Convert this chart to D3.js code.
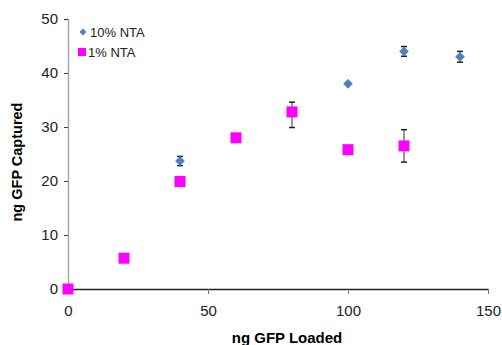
<!DOCTYPE html>
<html>
<head>
<meta charset="utf-8">
<script src="https://cdn.jsdelivr.net/npm/d3@7"></script>
<style>
  body { margin: 0; background: #fff; }
  text { font-family: "Liberation Sans", Arial, sans-serif; }
</style>
</head>
<body>
<div id="chart"></div>
<script>
let width  = 502,
    height = 345;

let margin = {top: 19, right: 14, bottom: 56, left: 68};

// 10% NTA (blue diamonds)
let ntaHighX   = [40, 100, 120, 140];
let ntaHighY   = [23.7, 38.0, 44.0, 43.0];
let ntaHighErr = [0.85, 0, 0.9, 1.0];

// 1% NTA (magenta squares)
let ntaLowX      = [0, 20, 40, 60, 80, 100, 120];
let ntaLowY      = [0, 5.7, 19.9, 28.0, 32.8, 25.8, 26.5];
let ntaLowErrUp  = [0, 0, 0.9, 0, 1.8, 0, 3.0];
let ntaLowErrDn  = [0, 0, 0, 0, 2.9, 0, 3.0];

let xTicks = [0, 50, 100, 150];
let yTicks = [0, 10, 20, 30, 40, 50];

let svg =
  d3.select("#chart")
    .append("svg")
      .attr("width", width)
      .attr("height", height);

let x = d3.scaleLinear()
    .domain([0, 150])
    .range([margin.left, width - margin.right]);

let y = d3.scaleLinear()
    .domain([0, 50])
    .range([height - margin.bottom, margin.top]);

// y axis
let yAxis = svg.append("g")
    .attr("transform", "translate(" + margin.left + ",0)")
    .call(d3.axisLeft(y).tickValues(yTicks).tickSize(4).tickPadding(6));
yAxis.select(".domain").attr("stroke", "#a6a6a6").attr("stroke-width", 1.5);
yAxis.selectAll(".tick line").attr("stroke", "#404040");
yAxis.selectAll("text").attr("font-size", 15).attr("fill", "#222");

// x axis
let xAxis = svg.append("g")
    .attr("transform", "translate(0," + y(0) + ")")
    .call(d3.axisBottom(x).tickValues(xTicks).tickSize(5).tickSizeOuter(0).tickPadding(11));
xAxis.select(".domain").attr("stroke", "#222").attr("stroke-width", 1.5);
xAxis.selectAll(".tick line").attr("stroke", "#777");
xAxis.selectAll("text").attr("font-size", 15).attr("fill", "#222");

// axis titles
svg.append("text")
    .attr("x", 287)
    .attr("y", 343)
    .attr("text-anchor", "middle")
    .attr("font-size", 15)
    .attr("font-weight", "bold")
    .text("ng GFP Loaded");

svg.append("text")
    .attr("transform", "translate(22,162) rotate(-90)")
    .attr("text-anchor", "middle")
    .attr("font-size", 14.5)
    .attr("font-weight", "bold")
    .text("ng GFP Captured");

// error bars
function errorBars(xs, ys, up, dn) {
  let g = svg.append("g");
  xs.forEach(function(d, i) {
    if (!up[i] && !dn[i]) return;
    let cx = x(d), y1 = y(ys[i] + up[i]), y2 = y(ys[i] - dn[i]);
    g.append("line").attr("x1", cx).attr("x2", cx).attr("y1", y1).attr("y2", y2)
      .attr("stroke", "#555").attr("stroke-width", 1.2);
    if (up[i]) g.append("line").attr("x1", cx - 3).attr("x2", cx + 3).attr("y1", y1).attr("y2", y1)
      .attr("stroke", "#222").attr("stroke-width", 1.5);
    if (dn[i]) g.append("line").attr("x1", cx - 3).attr("x2", cx + 3).attr("y1", y2).attr("y2", y2)
      .attr("stroke", "#222").attr("stroke-width", 1.5);
  });
}

errorBars(ntaHighX, ntaHighY, ntaHighErr, ntaHighErr);
errorBars(ntaLowX, ntaLowY, ntaLowErrUp, ntaLowErrDn);

let diamond = d3.symbol().type(d3.symbolDiamond2).size(60);

svg.append("g")
  .selectAll("path")
  .data(ntaHighX)
  .enter()
  .append("path")
    .attr("d", diamond)
    .attr("transform", function(d, i) { return "translate(" + x(d) + "," + y(ntaHighY[i]) + ")"; })
    .attr("fill", "#4f81bd");

svg.append("g")
  .selectAll("rect")
  .data(ntaLowX)
  .enter()
  .append("rect")
    .attr("x", function(d) { return x(d) - 5.5; })
    .attr("y", function(d, i) { return y(ntaLowY[i]) - 5.5; })
    .attr("width", 11)
    .attr("height", 11)
    .attr("fill", "#ff00ff");

// legend
let legend = svg.append("g");
legend.append("path")
    .attr("d", d3.symbol().type(d3.symbolDiamond2).size(30))
    .attr("transform", "translate(83,32)")
    .attr("fill", "#4f81bd");
legend.append("text")
    .attr("x", 90).attr("y", 36.5)
    .attr("font-size", 13).attr("fill", "#222")
    .text("10% NTA");
legend.append("rect")
    .attr("x", 78).attr("y", 48).attr("width", 8).attr("height", 8)
    .attr("fill", "#ff00ff");
legend.append("text")
    .attr("x", 88).attr("y", 57)
    .attr("font-size", 13).attr("fill", "#222")
    .text("1% NTA");
</script>
</body>
</html>
